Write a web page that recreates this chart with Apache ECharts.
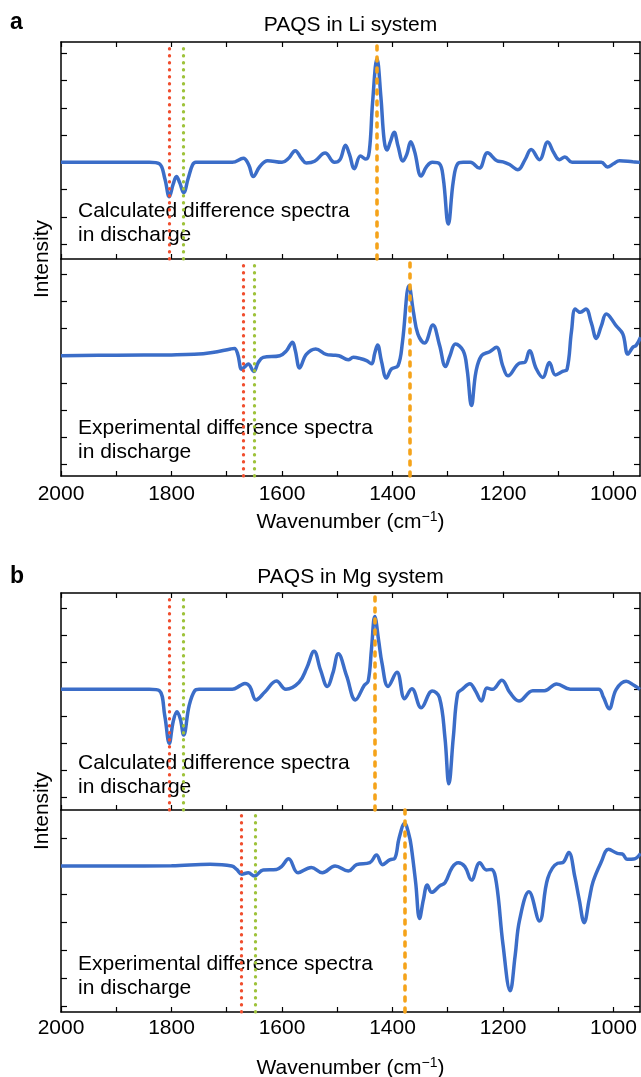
<!DOCTYPE html>
<html>
<head>
<meta charset="utf-8">
<title>PAQS difference spectra</title>
<script src="https://cdn.jsdelivr.net/npm/echarts@6/dist/echarts.min.js"></script>
<style>
html, body { margin: 0; padding: 0; background: #fff; }
#chart { width: 641px; height: 1077px; }
</style>
</head>
<body>
<div id="chart"></div>
<script>
// spectra: [wavenumber (cm-1), intensity in y-tick units]
const liCalc = [
  [2000, 0], [1840, 0], [1822, -0.05], [1812, -0.6], [1804, -1.26], [1797, -0.8], [1791, -0.52],
  [1785, -0.75], [1778, -1.11], [1770, -0.6], [1762, -0.1], [1756, 0], [1690, 0], [1670, 0.15],
  [1660, -0.1], [1652, -0.52], [1640, -0.15], [1626, 0.06], [1600, 0], [1588, 0.15], [1576, 0.43],
  [1565, 0.15], [1556, -0.02], [1541, 0.04], [1522, 0.34], [1505, 0], [1495, 0.1], [1485, 0.63],
  [1478, 0.3], [1469, -0.23], [1458, 0.23], [1448, 0.12], [1442, 0.4], [1436, 2.2], [1428, 3.8],
  [1421, 2.4], [1415, 0.8], [1410, 0.45], [1404, 0.75], [1397, 1.1], [1390, 0.6], [1381, 0.05],
  [1374, 0.3], [1367, 0.76], [1360, 0.4], [1348, -0.5], [1338, -0.15], [1328, 0], [1315, -0.05],
  [1308, -0.6], [1299, -2.26], [1290, -0.7], [1282, -0.05], [1272, 0], [1259, 0], [1243, -0.21],
  [1228, 0.35], [1211, 0.06], [1200, 0.02], [1188, -0.08], [1173, -0.27], [1160, 0.1], [1149, 0.47],
  [1134, 0.1], [1119, 0.75], [1108, 0.35], [1098, 0.1], [1088, 0.2], [1075, 0], [1022, 0],
  [1011, -0.17], [1000, -0.05], [989, 0.06], [965, 0.02], [952, 0]
];
const liExp = [
  [2000, 0], [1900, 0.02], [1800, 0.03], [1759, 0.05], [1726, 0.12], [1693, 0.25], [1686, 0.27],
  [1680, 0.05], [1673, -0.5], [1667, -0.4], [1661, -0.31], [1651, -0.58], [1643, -0.25], [1634, -0.06],
  [1604, 0], [1592, 0.18], [1581, 0.5], [1576, 0.2], [1568, -0.45], [1556, 0.05], [1539, 0.25],
  [1520, 0.05], [1507, 0.02], [1497, 0], [1480, -0.15], [1471, -0.06], [1459, -0.1], [1447, -0.18],
  [1438, -0.3], [1432, 0.1], [1427, 0.4], [1420, -0.2], [1411, -0.82], [1402, -0.49], [1390, -0.37],
  [1382, 0.5], [1370, 2.58], [1362, 1.6], [1354, 0.8], [1342, 0.47], [1327, 1.13], [1315, 0.4],
  [1304, -0.4], [1296, 0], [1286, 0.43], [1272, 0.18], [1265, -0.5], [1257, -1.84], [1249, -0.6],
  [1239, 0], [1224, 0.15], [1212, 0.31], [1200, -0.4], [1191, -0.74], [1170, -0.27], [1161, -0.25],
  [1152, 0.18], [1140, -0.47], [1128, -0.8], [1116, -0.25], [1105, -0.71], [1092, -0.58], [1084, -0.5],
  [1076, 0.9], [1069, 1.72], [1060, 1.6], [1050, 1.72], [1040, 1.2], [1031, 0.64], [1022, 1.1],
  [1013, 1.54], [995, 1.1], [983, 0.8], [974, 0.06], [965, 0.31], [959, 0.38], [951, 0.68]
];
const mgCalc = [
  [2000, 0], [1840, 0], [1822, -0.05], [1812, -1.0], [1804, -2.0], [1797, -1.2], [1790, -0.83],
  [1784, -1.1], [1778, -1.69], [1768, -0.6], [1758, -0.05], [1750, 0], [1690, 0], [1675, 0.15],
  [1667, 0.22], [1658, 0.1], [1647, -0.39], [1631, -0.1], [1610, 0.31], [1593, 0], [1569, 0.26],
  [1555, 0.8], [1542, 1.41], [1530, 0.7], [1518, 0.11], [1508, 0.6], [1498, 1.32], [1483, 0.5],
  [1467, -0.39], [1451, 0.15], [1444, 0.3], [1438, 1.5], [1432, 2.7], [1425, 1.8], [1419, 0.97],
  [1408, 0.11], [1392, 0.63], [1378, -0.35], [1365, 0.02], [1348, -0.68], [1328, -0.06], [1315, -0.3],
  [1305, -1.8], [1298, -3.5], [1290, -1.8], [1282, -0.15], [1274, 0], [1260, 0.21], [1250, -0.05],
  [1239, -0.43], [1229, 0.05], [1219, 0], [1202, 0.34], [1188, -0.1], [1171, -0.43], [1146, -0.05],
  [1125, -0.05], [1103, 0.2], [1078, 0], [1027, 0], [1018, -0.3], [1008, -0.72], [995, 0],
  [977, 0.3], [963, 0.15], [952, 0]
];
const mgExp = [
  [2000, 0], [1900, 0], [1800, 0.01], [1730, 0.06], [1691, 0], [1682, -0.12], [1673, -0.29],
  [1661, -0.24], [1650, -0.36], [1634, -0.14], [1610, -0.12], [1601, -0.02], [1588, 0.26], [1571, -0.24],
  [1547, -0.05], [1527, -0.24], [1504, 0], [1480, -0.18], [1465, 0.05], [1441, 0.12], [1429, 0.39],
  [1418, 0.05], [1405, 0.22], [1396, 0.27], [1388, 1.0], [1378, 1.52], [1370, 1.1], [1366, 0.69],
  [1358, -0.6], [1351, -1.87], [1344, -1.2], [1337, -0.68], [1329, -0.94], [1314, -0.7], [1305, -0.6],
  [1292, -0.05], [1281, 0.12], [1269, -0.02], [1257, -0.5], [1242, 0.12], [1230, -0.14], [1221, -0.12],
  [1212, -0.6], [1200, -2.8], [1187, -4.45], [1178, -3.2], [1170, -1.93], [1153, -0.92], [1134, -1.96],
  [1119, -0.44], [1101, 0.1], [1092, 0.12], [1081, 0.48], [1070, -0.38], [1062, -1.2], [1053, -2.02],
  [1044, -1.2], [1037, -0.56], [1022, 0.15], [1009, 0.6], [993, 0.45], [984, 0.43], [975, 0.24],
  [963, 0.25], [951, 0.45]
];

// vertical markers: [red dotted, green dotted, orange dashed]
const liCalcMarks = [1804, 1778, 1428];
const liExpMarks = [1671, 1650, 1368];
const mgCalcMarks = [1804, 1778, 1432];
const mgExpMarks = [1673, 1649, 1378];

// axis ticks
const xTicks = [1000, 1100, 1200, 1300, 1400, 1500, 1600, 1700, 1800, 1900, 2000];
const xLabels = [1000, 1200, 1400, 1600, 1800, 2000];
const yTicksLiCalc = [-3, -2, -1, 0, 1, 2, 3, 4];
const yTicksLiExp = [-4, -3, -2, -1, 0, 1, 2, 3];
const yTicksMgCalc = [-4, -3, -2, -1, 0, 1, 2, 3];
const yTicksMgExp = [-5, -4, -3, -2, -1, 0, 1];

const FONT = '"Liberation Sans", Arial, Helvetica, sans-serif';
const BLUE = '#3b6dc8';
const RED = '#f04e2e';
const GREEN = '#9ec23a';
const ORANGE = '#f5a31a';

const panels = [
  { data: liCalc, marks: liCalcMarks, ticks: yTicksLiCalc, min: -3.54, max: 4.41, top: 42, height: 217, labels: false, topAxis: true },
  { data: liExp, marks: liExpMarks, ticks: yTicksLiExp, min: -4.44, max: 3.57, top: 259, height: 217, labels: true, topAxis: false },
  { data: mgCalc, marks: mgCalcMarks, ticks: yTicksMgCalc, min: -4.47, max: 3.57, top: 593, height: 217, labels: false, topAxis: true },
  { data: mgExp, marks: mgExpMarks, ticks: yTicksMgExp, min: -5.21, max: 2.0, top: 810, height: 202, labels: true, topAxis: false }
];

const axisLine = { show: true, onZero: false, lineStyle: { color: '#000', width: 1.5 } };

const grids = [];
const xAxes = [];
const yAxes = [];
const series = [];

panels.forEach((p, i) => {
  grids.push({ left: 61, right: 1, top: p.top, height: p.height, containLabel: false, outerBoundsMode: 'none' });
  xAxes.push({
    gridIndex: i, type: 'value', inverse: true, min: 952, max: 2000, position: 'bottom',
    axisLine: axisLine,
    axisTick: { show: true, inside: true, length: 5, customValues: xTicks, lineStyle: { color: '#000', width: 1.2 } },
    axisLabel: {
      show: p.labels, customValues: xLabels, color: '#000', fontSize: 21, fontFamily: FONT,
      margin: i === 1 ? 8 : 6, formatter: v => String(v)
    },
    splitLine: { show: false }
  });
  yAxes.push({
    gridIndex: i, type: 'value', min: p.min, max: p.max, position: 'left',
    axisLine: axisLine,
    axisTick: { show: true, inside: true, length: 6, customValues: p.ticks, lineStyle: { color: '#000', width: 1.2 } },
    axisLabel: { show: false },
    splitLine: { show: false }
  });
  series.push({
    type: 'line', xAxisIndex: i, yAxisIndex: i, data: p.data,
    showSymbol: false, smooth: 0.4, z: 2,
    lineStyle: { color: BLUE, width: 3.5 },
    markLine: {
      silent: true, symbol: 'none', label: { show: false },
      data: [
        { xAxis: p.marks[0], lineStyle: { color: RED, width: 3.2, type: [0.5, 6.5], cap: 'round' } },
        { xAxis: p.marks[1], lineStyle: { color: GREEN, width: 3.2, type: [0.5, 6.5], cap: 'round' } },
        { xAxis: p.marks[2], lineStyle: { color: ORANGE, width: 3.6, type: [4, 7], cap: 'round' } }
      ]
    }
  });
});

// right-hand y axes (mirror ticks) and top x axes
panels.forEach((p, i) => {
  yAxes.push({
    gridIndex: i, type: 'value', min: p.min, max: p.max, position: 'right',
    axisLine: axisLine,
    axisTick: { show: true, inside: true, length: 6, customValues: p.ticks, lineStyle: { color: '#000', width: 1.2 } },
    axisLabel: { show: false },
    splitLine: { show: false }
  });
  if (p.topAxis) {
    xAxes.push({
      gridIndex: i, type: 'value', inverse: true, min: 952, max: 2000, position: 'top',
      axisLine: axisLine,
      axisTick: { show: true, inside: true, length: 5, customValues: xTicks, lineStyle: { color: '#000', width: 1.2 } },
      axisLabel: { show: false },
      splitLine: { show: false }
    });
  }
});

function txt(x, y, text, opts) {
  return {
    type: 'text', x: x, y: y,
    style: Object.assign({ text: text, font: '21px ' + FONT, fill: '#000', align: 'left', verticalAlign: 'middle' }, opts || {})
  };
}

function xName(y) {
  return {
    type: 'text', x: 350.5, y: y,
    style: {
      text: '{n|Wavenumber (cm}{s|−1}{n|)}',
      align: 'center', verticalAlign: 'middle',
      rich: {
        n: { font: '21px ' + FONT, fill: '#000', lineHeight: 24 },
        s: { font: '14px ' + FONT, fill: '#000', verticalAlign: 'top', lineHeight: 24 }
      }
    }
  };
}

const graphics = [
  txt(10, 23, 'a', { font: 'bold 23px ' + FONT }),
  txt(350.5, 25, 'PAQS in Li system', { align: 'center' }),
  txt(10, 577, 'b', { font: 'bold 23px ' + FONT }),
  txt(350.5, 577, 'PAQS in Mg system', { align: 'center' }),
  txt(78, 211, 'Calculated difference spectra'),
  txt(78, 235, 'in discharge'),
  txt(78, 428, 'Experimental difference spectra'),
  txt(78, 452, 'in discharge'),
  txt(78, 763, 'Calculated difference spectra'),
  txt(78, 787, 'in discharge'),
  txt(78, 964, 'Experimental difference spectra'),
  txt(78, 988, 'in discharge'),
  Object.assign(txt(42, 259, 'Intensity', { align: 'center' }), { rotation: Math.PI / 2 }),
  Object.assign(txt(42, 811, 'Intensity', { align: 'center' }), { rotation: Math.PI / 2 }),
  xName(522),
  xName(1068)
];

const myChart = echarts.init(document.getElementById('chart'));
myChart.setOption({
  animation: false,
  backgroundColor: '#fff',
  grid: grids,
  xAxis: xAxes,
  yAxis: yAxes,
  series: series,
  graphic: graphics
});
</script>
</body>
</html>
